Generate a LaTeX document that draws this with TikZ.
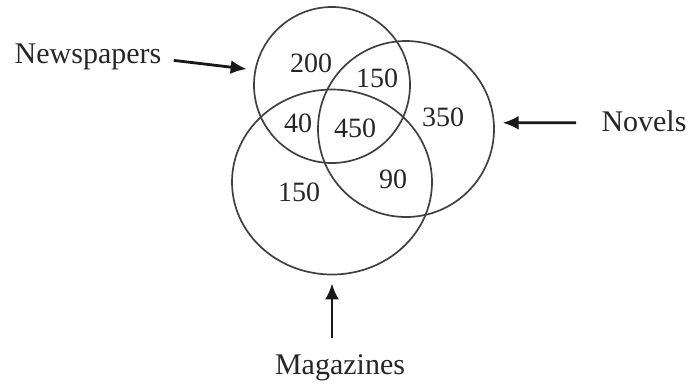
\documentclass[tikz,border=0pt]{standalone}
\usepackage{fontspec}
\setmainfont{Liberation Serif}
\usepackage{xcolor}
\usetikzlibrary{arrows.meta,positioning,shapes.geometric}

\begin{document}
\begin{tikzpicture}[x=0.5pt,y=-0.5pt,
  set/.style={draw=black!75,line width=0.85pt,inner sep=0pt},
  num/.style={font=\fontsize{14}{16}\selectfont,text=black!85},
  lbl/.style={font=\fontsize{15}{18}\selectfont,text=black!85,anchor=base,inner sep=0pt},
  pointer/.style={-{Latex[length=8pt,width=7pt]},line width=1.4pt,black!90,shorten >=4pt}]
  \useasboundingbox (0,0) rectangle (689,388);
  % the three sets
  \node[set,circle,minimum size=78pt] (news) at (332,85) {};
  \node[set,circle,minimum size=88pt] (novels) at (406,129) {};
  \node[set,ellipse,minimum width=100pt,minimum height=92.5pt] (mags) at (332,182) {};
  % region counts
  \node[num] (nonly) at (311,63) {200};
  \node[num] (nv) at (377,78) {150};
  \node[num] (vonly) at (443,117) {350};
  \node[num] (nm) at (298,123) {40};
  \node[num] (all) at (355,128) {450};
  \node[num] (vm) at (393,179) {90};
  \node[num] (monly) at (299,192) {150};
  % labels and pointers
  \node[lbl] (newslbl) at (88,63) {Newspapers};
  \node[lbl] (novlbl) at (644,131) {Novels};
  \node[lbl] (maglbl) at (340,374) {Magazines};
  \draw[pointer] ([xshift=6pt,yshift=-2pt]newslbl.east) -- (news.169);
  \draw[pointer] ([xshift=-12.5pt,yshift=-1pt]novlbl.west) -- (novels.4);
  \draw[pointer] ([yshift=8pt]maglbl.north -| mags.south) -- (mags.south);
\end{tikzpicture}
\end{document}
